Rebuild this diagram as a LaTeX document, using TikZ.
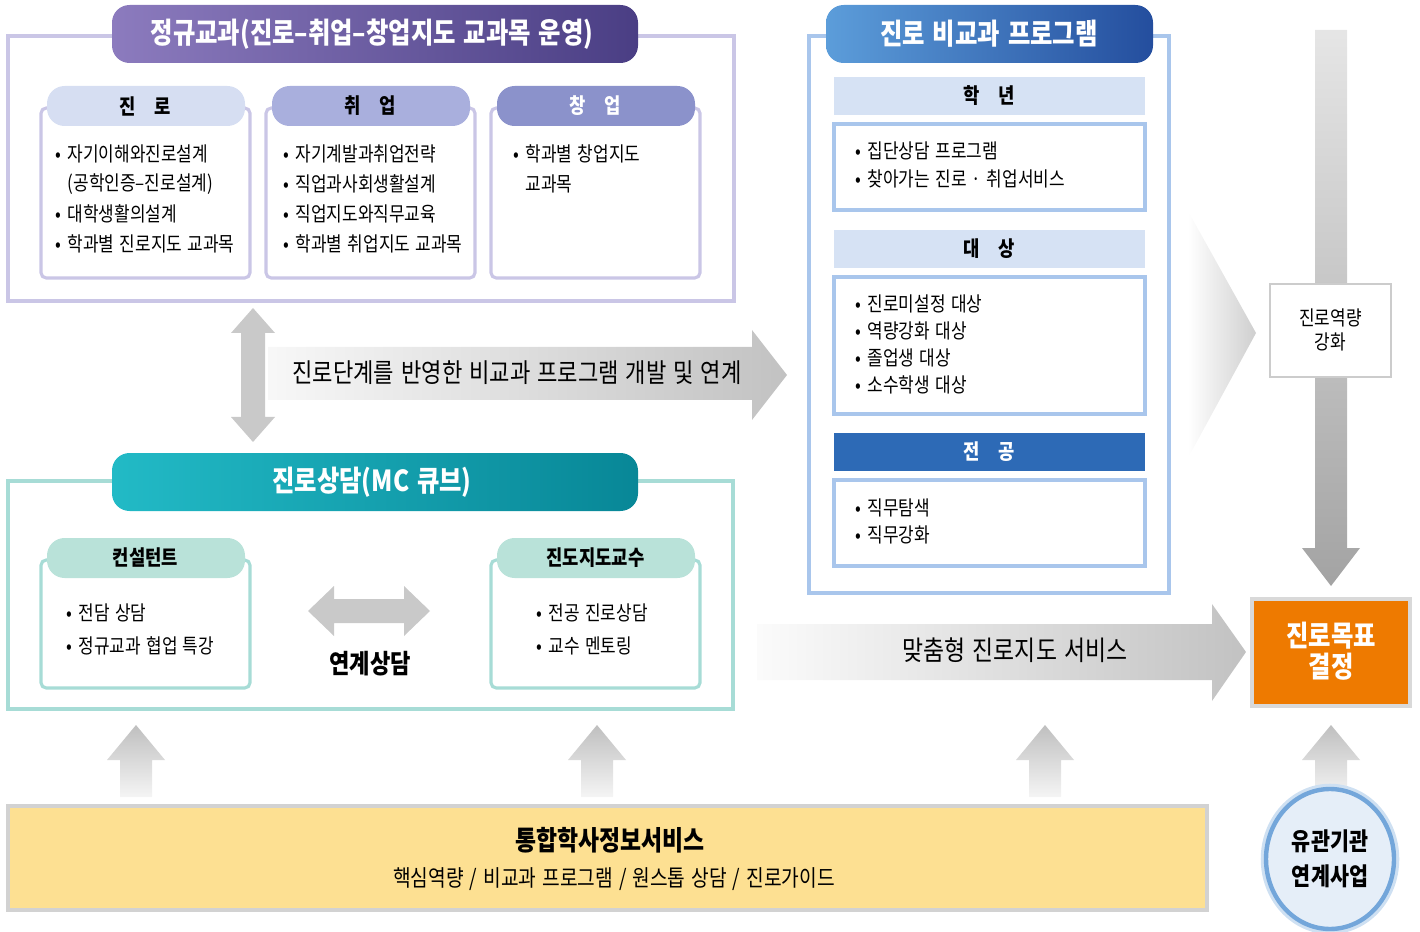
\documentclass[tikz,border=0pt]{standalone}
\usepackage{fontspec}
\setmainfont{Noto Sans CJK KR}[FakeStretch=0.84, WordSpace=1.4]
\usetikzlibrary{shapes.geometric}

\definecolor{lavframe}{HTML}{CAC6E6}
\definecolor{purpleL}{HTML}{8C7BBE}
\definecolor{purpleR}{HTML}{4A3E84}
\definecolor{hdA}{HTML}{D6DEF2}
\definecolor{hdB}{HTML}{A9AFDD}
\definecolor{hdC}{HTML}{8B92CB}
\definecolor{skyframe}{HTML}{A9C6EC}
\definecolor{blueL}{HTML}{5C9DDA}
\definecolor{blueR}{HTML}{244E9E}
\definecolor{hdD}{HTML}{D6E2F4}
\definecolor{hdE}{HTML}{2D6AB6}
\definecolor{tealframe}{HTML}{A7DCD6}
\definecolor{tealL}{HTML}{22BAC6}
\definecolor{tealR}{HTML}{088797}
\definecolor{hdF}{HTML}{B9E2D9}
\definecolor{goalorange}{HTML}{EE7A00}
\definecolor{infoyellow}{HTML}{FDE092}
\definecolor{circfill}{HTML}{E5EEF8}
\definecolor{circring}{HTML}{73A6DA}

\newcommand{\bul}{\makebox[7pt][l]{•}}
\newcommand{\fs}[1]{\fontsize{#1}{#1}\selectfont}

\begin{document}
\begin{tikzpicture}[x=0.02cm, y=-0.02cm,
  every node/.style={inner sep=0pt},
  boxline/.style={draw=#1, line width=1.8pt},
  bullettext/.style={anchor=west, font=\fs{11.5}},
  hd/.style={font=\fs{12}\bfseries},
  ttl/.style={text=white, font=\fs{16.5}\bfseries},
  uparrow/.style={top color=gray!50, bottom color=gray!8}]
\useasboundingbox (0,0) rectangle (1420,932);

% 정규교과
\draw[boxline=lavframe] (8,36) rectangle (734,301);
\shade[rounded corners=10pt, left color=purpleL, right color=purpleR] (112,5) rectangle (638,63);
\node[ttl] (regular) at (372,34) {정규교과(진로–취업–창업지도 교과목 운영)};
\foreach \x/\c/\tc/\t [count=\n] in {41/hdA/black/진\hspace{0.9em}로, 266/hdB/black/취\hspace{0.9em}업, 491/hdC/white/창\hspace{0.9em}업} {
  \draw[boxline=lavframe, rounded corners=3pt, fill=white] (\x,108) rectangle ++(209,170);
  \fill[\c, rounded corners=10pt] (\x+6,86) rectangle ++(198,40);
  \node[hd, text=\tc] (course\n) at (\x+104.5,106) {\t};
}
\foreach \y/\s [count=\k] in {154/{\bul 자기이해와진로설계}, 184/{\hspace{7pt}(공학인증–진로설계)}, 214/{\bul 대학생활의설계}, 244/{\bul 학과별 진로지도 교과목}}
  \node[bullettext] (career\k) at (55,\y) {\s};
\foreach \y/\s [count=\k] in {154/{\bul 자기계발과취업전략}, 184/{\bul 직업과사회생활설계}, 214/{\bul 직업지도와직무교육}, 244/{\bul 학과별 취업지도 교과목}}
  \node[bullettext] (job\k) at (283,\y) {\s};
\foreach \y/\s [count=\k] in {154/{\bul 학과별 창업지도}, 184/{\hspace{7pt}교과목}}
  \node[bullettext] (startup\k) at (513,\y) {\s};

% 연계 화살표
\fill[gray!42] (253,308) -- (275,333) -- (265,333) -- (265,417) -- (275,417) -- (253,442)
  -- (231,417) -- (241,417) -- (241,333) -- (231,333) -- cycle;
\shade[left color=gray!6, right color=gray!48] (268,347) -- (752,347) -- (752,330) -- (787,375)
  -- (752,420) -- (752,400) -- (268,400) -- cycle;
\node[font=\fs{15}] (develop) at (517,373) {진로단계를 반영한 비교과 프로그램 개발 및 연계};

% 비교과
\draw[boxline=skyframe] (809,36) rectangle (1169,593);
\shade[rounded corners=10pt, left color=blueL, right color=blueR] (826,5) rectangle (1153,63);
\node[ttl] (extra) at (989,34) {진로 비교과 프로그램};
\foreach \y/\c/\tc/\t [count=\n] in {77/hdD/black/학\hspace{0.9em}년, 230/hdD/black/대\hspace{0.9em}상, 433/hdE/white/전\hspace{0.9em}공} {
  \fill[\c] (834,\y) rectangle ++(311,38);
  \node[hd, text=\tc] (group\n) at (989.5,\y+19) {\t};
}
\foreach \a/\b in {124/210, 277/414, 480/566}
  \draw[boxline=skyframe] (834,\a) rectangle (1145,\b);
\foreach \y/\s [count=\k] in {151/집단상담 프로그램, 179/찾아가는 진로 · 취업서비스,
    304/진로미설정 대상, 331/역량강화 대상, 358/졸업생 대상, 385/소수학생 대상,
    508/직무탐색, 535/직무강화}
  \node[bullettext] (prog\k) at (855,\y) {\bul\s};

% 진로역량 강화
\shade[left color=white, right color=gray!38] (1188,211) -- (1256,333) -- (1188,458) -- cycle;
\shade[top color=gray!20, bottom color=gray!72] (1315,30) -- (1347,30) -- (1347,548) -- (1360,548)
  -- (1331,586) -- (1302,548) -- (1315,548) -- cycle;
\draw[gray!40, line width=1.5pt, fill=white] (1270,284) rectangle (1391,377);
\node[align=center, font=\fontsize{11.5}{13.6}\selectfont] (strength) at (1330.5,330) {진로역량\\강화};

% 맞춤형 진로지도
\shade[left color=gray!3, right color=gray!48] (757,624) -- (1212,624) -- (1212,604) -- (1246,652)
  -- (1212,701) -- (1212,680) -- (757,680) -- cycle;
\node[font=\fs{15.5}] (custom) at (1015,650) {맞춤형 진로지도 서비스};
\draw[gray!30, line width=2pt, fill=goalorange] (1252,599) rectangle (1410,706);
\node[text=white, align=center, font=\fontsize{16.5}{17.6}\selectfont\bfseries] (goal) at (1331,651) {진로목표\\결정};

% 진로상담
\draw[boxline=tealframe] (8,481) rectangle (733,709);
\shade[rounded corners=10pt, left color=tealL, right color=tealR] (112,453) rectangle (638,511);
\node[ttl] (counsel) at (372,482) {진로상담(MC 큐브)};
\foreach \x/\t [count=\n] in {41/컨설턴트, 491/진도지도교수} {
  \draw[boxline=tealframe, rounded corners=3pt, fill=white] (\x,560) rectangle ++(209,128);
  \fill[hdF, rounded corners=10pt] (\x+6,538) rectangle ++(198,40);
  \node[hd] (adviser\n) at (\x+104.5,558) {\t};
}
\node[bullettext] (consult1) at (66,613) {\bul 전담 상담};
\node[bullettext] (consult2) at (66,646) {\bul 정규교과 협업 특강};
\node[bullettext] (prof1) at (536,613) {\bul 전공 진로상담};
\node[bullettext] (prof2) at (536,646) {\bul 교수 멘토링};
\fill[gray!42] (308,611) -- (334,586) -- (334,599) -- (404,599) -- (404,586) -- (430,611)
  -- (404,636) -- (404,623) -- (334,623) -- (334,636) -- cycle;
\node[font=\fs{15}\bfseries] (link) at (370,664) {연계상담};

% 통합학사정보서비스
\foreach \x in {136, 597, 1045, 1331}
  \shade[uparrow] (\x-16,797) -- (\x-16,760) -- (\x-29,760) -- (\x,725) -- (\x+29,760)
    -- (\x+16,760) -- (\x+16,797) -- cycle;
\draw[gray!35, line width=2pt, fill=infoyellow] (8,806) rectangle (1207,910);
\node[font=\fs{15.5}\bfseries] (info) at (610,840) {통합학사정보서비스};
\node[font=\fs{13}] (infosub) at (614,879) {핵심역량 / 비교과 프로그램 / 원스톱 상담 / 진로가이드};

\draw[circring!35, line width=6pt] (1330,859) ellipse [x radius=64, y radius=70];
\node[ellipse, draw=circring, line width=2.5pt, fill=circfill, minimum width=2.56cm, minimum height=2.8cm,
  align=center, font=\fontsize{14}{19.8}\selectfont\bfseries] (partner) at (1330,859) {유관기관\\연계사업};
\end{tikzpicture}
\end{document}
